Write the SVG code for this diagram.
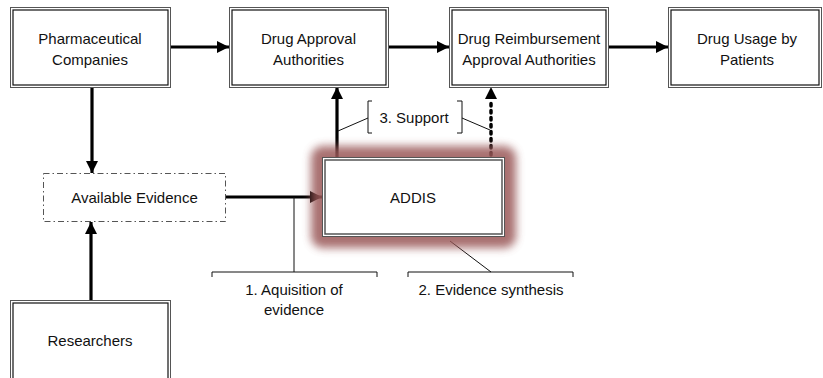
<svg xmlns="http://www.w3.org/2000/svg" width="823" height="378" viewBox="0 0 823 378">
<defs>
<style>
text{font-family:"Liberation Sans",Arial,sans-serif;font-size:15px;fill:#111;text-anchor:middle}
.outer{fill:#fff;stroke:#555;stroke-width:1}
.inner{fill:none;stroke:#111;stroke-width:1.2}
.conn{stroke:#000;stroke-width:3.2;fill:none}
.dot{stroke:#000;stroke-width:3.5;fill:none;stroke-dasharray:2.5 4.5;stroke-linecap:round}
.thin{stroke:#111;stroke-width:1;fill:none}
.ev{fill:#fff;stroke:#555;stroke-width:1;stroke-dasharray:6 3 1.5 3}
</style>
<marker id="ah" markerUnits="userSpaceOnUse" markerWidth="12" markerHeight="12" refX="12" refY="6" orient="auto">
<path d="M0,0 L12,6 L0,12 z" fill="#000"/>
</marker>
<filter id="glow" x="-30%" y="-30%" width="160%" height="160%">
<feGaussianBlur stdDeviation="4"/>
</filter>
</defs>
<rect width="823" height="378" fill="#fff"/>

<g id="connectors">
<line class="conn" x1="170" y1="47" x2="229" y2="47" marker-end="url(#ah)"/>
<line class="conn" x1="388" y1="47" x2="449" y2="47" marker-end="url(#ah)"/>
<line class="conn" x1="609" y1="47" x2="668" y2="47" marker-end="url(#ah)"/>
<line class="conn" x1="92" y1="87" x2="92" y2="173" marker-end="url(#ah)"/>
<line class="conn" x1="91" y1="300" x2="91" y2="222" marker-end="url(#ah)"/>
<line class="conn" x1="226" y1="197" x2="322" y2="197" marker-end="url(#ah)"/>
<line class="conn" x1="337" y1="157" x2="337" y2="87" marker-end="url(#ah)"/>
<line class="dot" x1="491" y1="155" x2="491" y2="99"/>
<path d="M485,99 L491,87 L497,99 z" fill="#000"/>
</g>

<g id="callouts">
<path class="thin" d="M294,197 V272"/>
<path class="thin" d="M212,277 V272 H377 V277"/>
<text x="294" y="295">1. Aquisition of</text>
<text x="294" y="315">evidence</text>
<path class="thin" d="M491,272 L450,241"/>
<path class="thin" d="M408,277 V272 H573 V277"/>
<text x="491" y="295">2. Evidence synthesis</text>
<path class="thin" d="M372,101 H368 V133 H372"/>
<path class="thin" d="M457,101 H462 V133 H457"/>
<path class="thin" d="M368,118 L338,131"/>
<path class="thin" d="M462,118 L490,130"/>
<text x="414" y="123">3. Support</text>
</g>

<g id="pharma">
<rect class="outer" x="10.5" y="7.5" width="160" height="80"/>
<rect class="inner" x="13" y="10" width="155" height="75"/>
<text x="90" y="43.5">Pharmaceutical</text>
<text x="90" y="64.5">Companies</text>
</g>

<g id="approval">
<rect class="outer" x="229.5" y="7.5" width="159" height="80"/>
<rect class="inner" x="232" y="10" width="154" height="75"/>
<text x="308.5" y="43.5">Drug Approval</text>
<text x="308.5" y="64.5">Authorities</text>
</g>

<g id="reimbursement">
<rect class="outer" x="449.5" y="7.5" width="159" height="80"/>
<rect class="inner" x="452" y="10" width="154" height="75"/>
<text x="529" y="43.5">Drug Reimbursement</text>
<text x="529" y="64.5">Approval Authorities</text>
</g>

<g id="usage">
<rect class="outer" x="668.5" y="7.5" width="153" height="80"/>
<rect class="inner" x="671" y="10" width="148" height="75"/>
<text x="747" y="43.5">Drug Usage by</text>
<text x="747" y="64.5">Patients</text>
</g>

<g id="evidence">
<rect class="ev" x="43.5" y="173.5" width="182" height="48"/>
<text x="134.5" y="202.5">Available Evidence</text>
</g>

<g id="researchers">
<rect class="outer" x="10.5" y="300.5" width="160" height="90"/>
<rect class="inner" x="13" y="303" width="155" height="85"/>
<text x="90" y="346">Researchers</text>
</g>

<g id="addis">
<rect x="311" y="146" width="205" height="102" rx="12" fill="#9a5858" opacity="0.85" filter="url(#glow)"/>
<rect class="outer" x="322.5" y="157.5" width="182" height="79" stroke="#333"/>
<rect x="325" y="160" width="177" height="74" fill="none" stroke="#555" stroke-width="1.5"/>
<text x="413" y="203">ADDIS</text>
</g>
</svg>
